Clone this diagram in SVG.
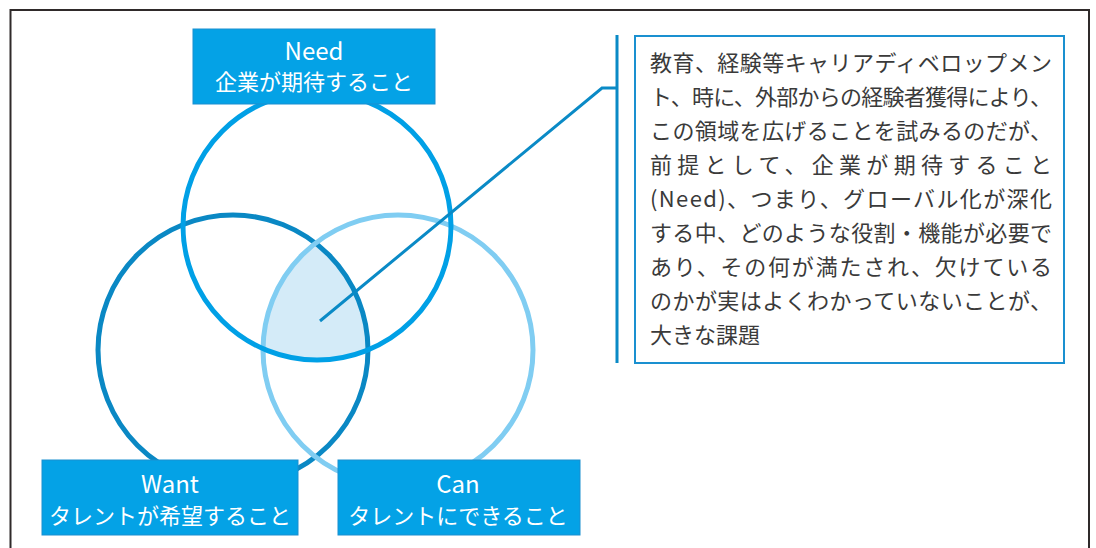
<svg xmlns="http://www.w3.org/2000/svg" width="1096" height="548" viewBox="0 0 1096 548">
<style>
.ring{fill:none;stroke-width:5}
.lbl{fill:#04a2e6;stroke:#1a8fd0;stroke-width:1}
.lt{font-family:"Noto Sans CJK JP","Noto Sans",sans-serif;font-size:22px;fill:#ffffff;text-anchor:middle}
.le{font-size:24px}
.bt{font-family:"Noto Sans CJK JP","Noto Sans",sans-serif;font-size:22px;fill:#3a3a3a}
.lead{fill:none;stroke:#0a8ac6;stroke-width:3}
</style>
<defs>
<clipPath id="cW"><circle cx="233" cy="350" r="135"/></clipPath>
<clipPath id="cC"><circle cx="398" cy="350" r="135"/></clipPath>
</defs>
<rect x="10.5" y="10" width="1078.5" height="570" fill="#ffffff" stroke="#2f2a2a" stroke-width="2"/>
<g id="overlap" clip-path="url(#cC)"><circle cx="317" cy="226" r="134" fill="#d4ebf8" clip-path="url(#cW)"/></g>
<g id="circle-want"><circle class="ring" cx="233" cy="350" r="135" stroke="#0a88c4"/></g>
<g id="circle-can"><circle class="ring" cx="398" cy="350" r="135" stroke="#80cdf2"/></g>
<g id="circle-need"><circle class="ring" cx="317" cy="226" r="134" stroke="#00a0e6"/></g>
<g id="connectors">
<polyline class="lead" points="320,321 602,88 617,88"/>
<line class="lead" x1="617" y1="35" x2="617" y2="363"/>
</g>
<g id="node-need">
<rect class="lbl" x="193" y="29" width="242" height="75"/>
<text class="lt le" x="314" y="60">Need</text>
<text class="lt" x="314" y="90">企業が期待すること</text>
</g>
<g id="node-want">
<rect class="lbl" x="42" y="460" width="256" height="75"/>
<text class="lt le" x="170" y="493">Want</text>
<text class="lt" x="170" y="524">タレントが希望すること</text>
</g>
<g id="node-can">
<rect class="lbl" x="338" y="460" width="242" height="75"/>
<text class="lt le" x="458" y="493">Can</text>
<text class="lt" x="458" y="524">タレントにできること</text>
</g>
<g id="node-note">
<rect x="635" y="36" width="429" height="327" fill="#ffffff" stroke="#1a90d0" stroke-width="2"/>
<text class="bt" x="650" y="71" textLength="402" lengthAdjust="spacing">教育、経験等キャリアディベロップメン</text>
<text class="bt" x="650" y="105" textLength="402" lengthAdjust="spacing">ト、時に、外部からの経験者獲得により、</text>
<text class="bt" x="650" y="139" textLength="402" lengthAdjust="spacing">この領域を広げることを試みるのだが、</text>
<text class="bt" x="650" y="173" textLength="402" lengthAdjust="spacing">前提として、企業が期待すること</text>
<text class="bt" x="650" y="207" textLength="402" lengthAdjust="spacing">(Need)、つまり、グローバル化が深化</text>
<text class="bt" x="650" y="241" textLength="402" lengthAdjust="spacing">する中、どのような役割・機能が必要で</text>
<text class="bt" x="650" y="275" textLength="402" lengthAdjust="spacing">あり、その何が満たされ、欠けている</text>
<text class="bt" x="650" y="309" textLength="402" lengthAdjust="spacing">のかが実はよくわかっていないことが、</text>
<text class="bt" x="650" y="343">大きな課題</text>
</g>
</svg>
